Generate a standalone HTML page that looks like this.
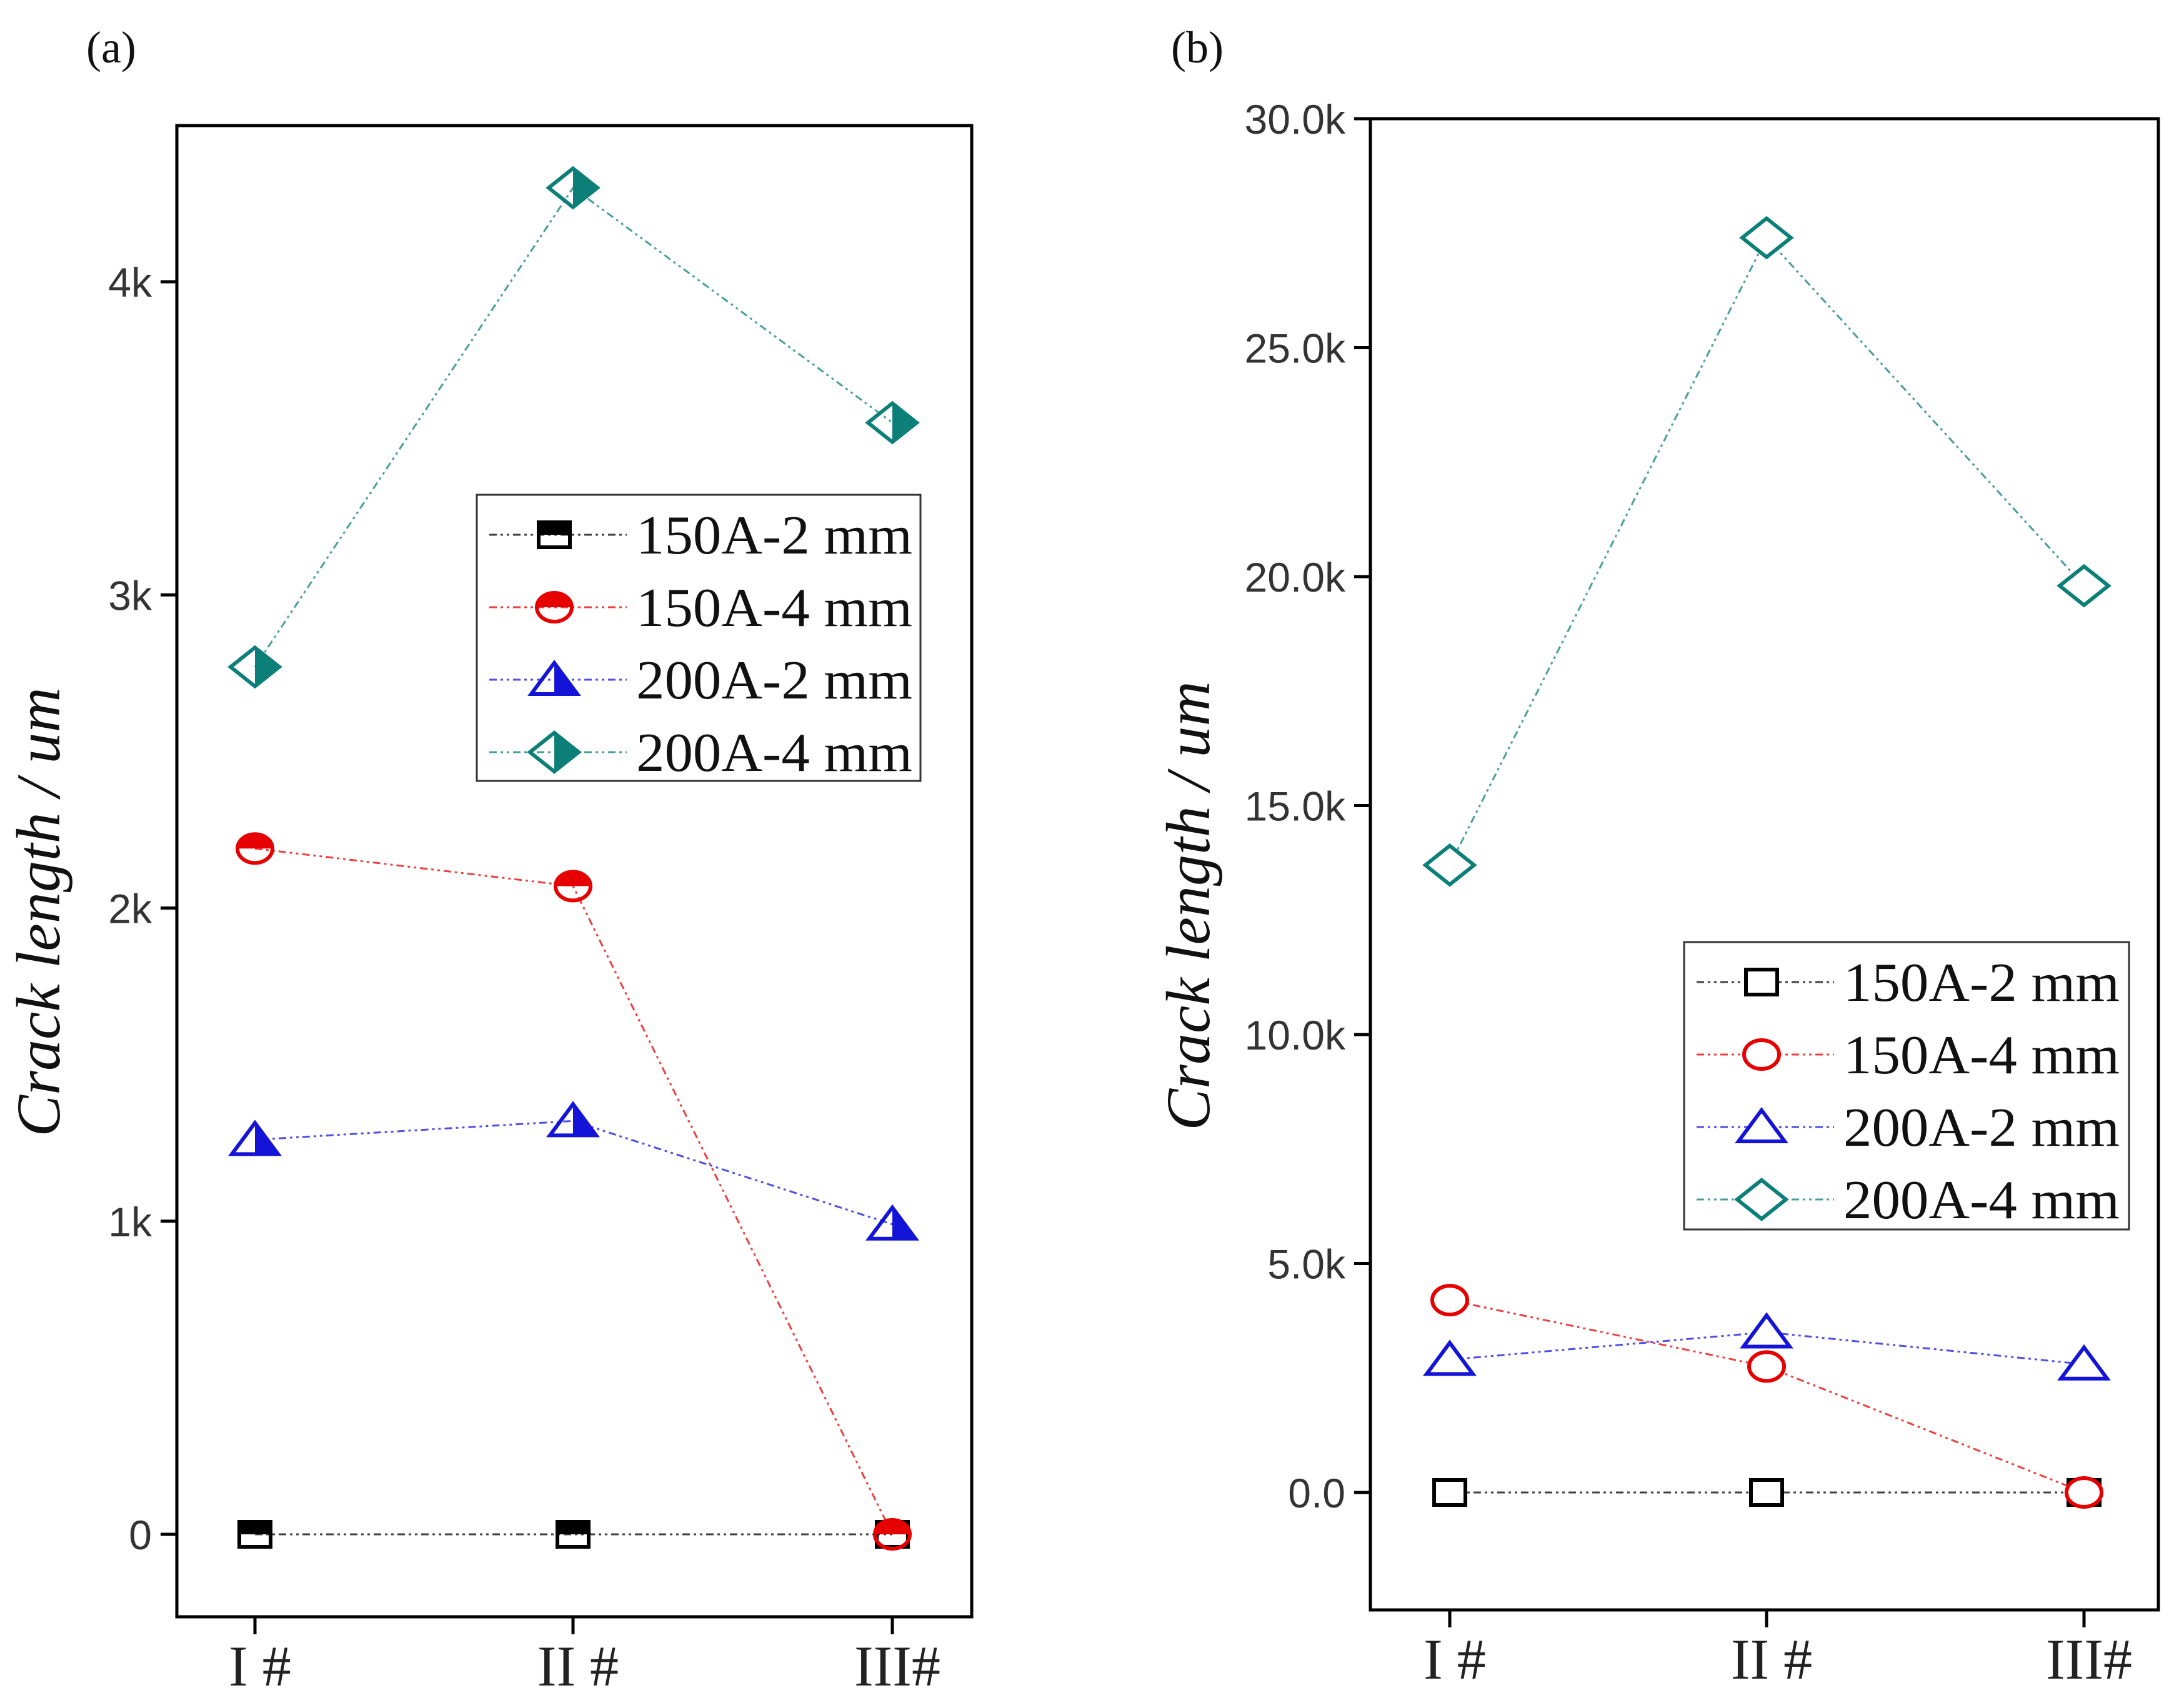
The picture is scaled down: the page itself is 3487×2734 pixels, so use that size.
<!DOCTYPE html>
<html><head><meta charset="utf-8">
<style>
html,body{margin:0;padding:0;background:#fff;}
svg{display:block;}
</style></head>
<body>
<svg id="chart" xmlns="http://www.w3.org/2000/svg" width="3487" height="2734" viewBox="0 0 3487 2734">
<rect x="0" y="0" width="3487" height="2734" fill="#fff"/>
</svg>
<script>
var categories = ["I #", "II #", "III#"];
var seriesNames = ["150A-2 mm", "150A-4 mm", "200A-2 mm", "200A-4 mm"];
var aSeries150A2 = [0, 0, 0];
var aSeries150A4 = [2190, 2070, 0];
var aSeries200A2 = [1260, 1320, 990];
var aSeries200A4 = [2770, 4300, 3550];
var aTickValues = [0, 1000, 2000, 3000, 4000];
var aTickLabels = ["0", "1k", "2k", "3k", "4k"];
var bSeries150A2 = [0, 0, 0];
var bSeries150A4 = [4200, 2750, 0];
var bSeries200A2 = [2900, 3500, 2800];
var bSeries200A4 = [13700, 27400, 19800];
var bTickValues = [0, 5000, 10000, 15000, 20000, 25000, 30000];
var bTickLabels = ["0.0", "5.0k", "10.0k", "15.0k", "20.0k", "25.0k", "30.0k"];

var NS = "http://www.w3.org/2000/svg";
var svg = document.getElementById("chart");
var colors = ["#000000", "#e60000", "#1414d8", "#0b7f78"];
var shapes = ["square", "circle", "triangle", "diamond"];
var dash = "12 6 4 6 4 6";

function mk(tag, attrs, parent) {
  var e = document.createElementNS(NS, tag);
  for (var k in attrs) e.setAttribute(k, attrs[k]);
  (parent || svg).appendChild(e);
  return e;
}

function marker(g, shape, cx, cy, color, half, uid) {
  var o;
  if (shape === "square") {
    o = "M" + (cx - 25) + "," + (cy - 20) + " h50 v40 h-50 z";
  } else if (shape === "circle") {
    o = null;
  } else if (shape === "triangle") {
    o = "M" + cx + "," + (cy - 27) + " L" + (cx + 37) + "," + (cy + 23) + " L" + (cx - 37) + "," + (cy + 23) + " z";
  } else {
    o = "M" + cx + "," + (cy - 31) + " L" + (cx + 39) + "," + cy + " L" + cx + "," + (cy + 31) + " L" + (cx - 39) + "," + cy + " z";
  }
  var el;
  if (half) {
    var cid = "clip" + uid;
    var cp = mk("clipPath", {id: cid}, g);
    if (shape === "square" || shape === "circle") mk("rect", {x: cx - 50, y: cy - 50, width: 100, height: 50}, cp);
    else mk("rect", {x: cx, y: cy - 50, width: 50, height: 100}, cp);
    if (o) mk("path", {d: o, fill: color, "clip-path": "url(#" + cid + ")"}, g);
    else mk("ellipse", {cx: cx, cy: cy, rx: 30, ry: 24, fill: color, "clip-path": "url(#" + cid + ")"}, g);
  }
  if (o) el = mk("path", {d: o, fill: half ? "none" : "#fff", stroke: color, "stroke-width": 6}, g);
  else el = mk("ellipse", {cx: cx, cy: cy, rx: 28, ry: 23, fill: half ? "none" : "#fff", stroke: color, "stroke-width": 6}, g);
  return el;
}

var uidCounter = 0;
function drawPanel(p) {
  var g = mk("g", {});
  
  
  var y = function (v) { return p.y0 - (v - p.vmin) / (p.vmax - p.vmin) * (p.y0 - p.y1); };
  var x = function (i) { return p.xs[i]; };
  var frame = mk("rect", {x: p.L, y: p.T, width: p.R - p.L, height: p.B - p.T, fill: "none", stroke: "#000", "stroke-width": 5}, g);
  
  
  p.ticks.forEach(function (v, i) {
    var ty = y(v);
    var t = mk("line", {x1: p.L - 26, x2: p.L, y1: ty, y2: ty, stroke: "#000", "stroke-width": 5}, g);
    
    
    var lb = mk("text", {x: p.L - 40, y: ty + 24, "text-anchor": "end", "font-family": "Liberation Sans, sans-serif", "font-size": 66, fill: "#333"}, g);
    lb.textContent = p.tickLabels[i];
    
    
  });
  categories.forEach(function (c, i) {
    var t = mk("line", {x1: x(i), x2: x(i), y1: p.B, y2: p.B + 28, stroke: "#000", "stroke-width": 5}, g);
    
    
    var lb = mk("text", {x: x(i) + 8, y: p.B + 110, "text-anchor": "middle", "font-family": "Liberation Serif, serif", "font-size": 92, fill: "#222"}, g);
    lb.textContent = c;
    
    
  });
  var yt = mk("text", {x: 0, y: 0, transform: "translate(" + p.titleX + "," + p.titleY + ") rotate(-90)", "text-anchor": "middle", "font-family": "Liberation Serif, serif", "font-style": "italic", "font-size": 100, fill: "#111"}, g);
  yt.textContent = "Crack length / um";
  
  
  var pl = mk("text", {x: p.labelX, y: 100, "font-family": "Liberation Serif, serif", "font-size": 72, fill: "#111"}, g);
  pl.textContent = p.label;
  
  

  p.series.forEach(function (vals, s) {
    var sg = mk("g", {}, g);
    
    
    var pts = vals.map(function (v, i) { return x(i) + "," + y(v); }).join(" ");
    var ln = mk("polyline", {points: pts, fill: "none", stroke: colors[s], "stroke-width": 3, "stroke-opacity": 0.75, "stroke-dasharray": dash}, sg);
    
    
    vals.forEach(function (v, i) {
      var m = marker(sg, shapes[s], x(i), y(v), colors[s], p.half, uidCounter++);
      
      
    });
  });

  var lg = mk("g", {}, g);
  
  
  var box = mk("rect", {x: p.lg.x, y: p.lg.y, width: p.lg.w, height: p.lg.h, fill: "#fff", stroke: "#333", "stroke-width": 3}, lg);
  
  
  seriesNames.forEach(function (n, s) {
    var ry = p.lg.y + 64 + s * 116;
    var eg = mk("g", {}, lg);
    
    
    mk("line", {x1: p.lg.x + 20, x2: p.lg.x + 240, y1: ry, y2: ry, stroke: colors[s], "stroke-width": 3, "stroke-opacity": 0.75, "stroke-dasharray": dash}, eg);
    marker(eg, shapes[s], p.lg.x + 124, ry, colors[s], p.half, uidCounter++);
    var tx = mk("text", {x: p.lg.x + 255, y: ry + 30, "font-family": "Liberation Serif, serif", "font-size": 88, fill: "#111", textLength: 442, lengthAdjust: "spacingAndGlyphs"}, eg);
    tx.textContent = n;
  });
}

drawPanel({
  name: "panel-a", label: "(a)", labelX: 138, half: true,
  L: 283, R: 1555, T: 201, B: 2588,
  y0: 2456, y1: 451, vmin: 0, vmax: 4000,
  xs: [408, 917, 1428],
  ticks: aTickValues, tickLabels: aTickLabels,
  titleX: 95, titleY: 1460,
  series: [aSeries150A2, aSeries150A4, aSeries200A2, aSeries200A4],
  lg: {x: 763, y: 792, w: 710, h: 458}
});
drawPanel({
  name: "panel-b", label: "(b)", labelX: 1874, half: false,
  L: 2193, R: 3454, T: 190, B: 2577,
  y0: 2389, y1: 190, vmin: 0, vmax: 30000,
  xs: [2320, 2827, 3335],
  ticks: bTickValues, tickLabels: bTickLabels,
  titleX: 1935, titleY: 1450,
  series: [bSeries150A2, bSeries150A4, bSeries200A2, bSeries200A4],
  lg: {x: 2695, y: 1508, w: 712, h: 460}
});
</script>
</body></html>
